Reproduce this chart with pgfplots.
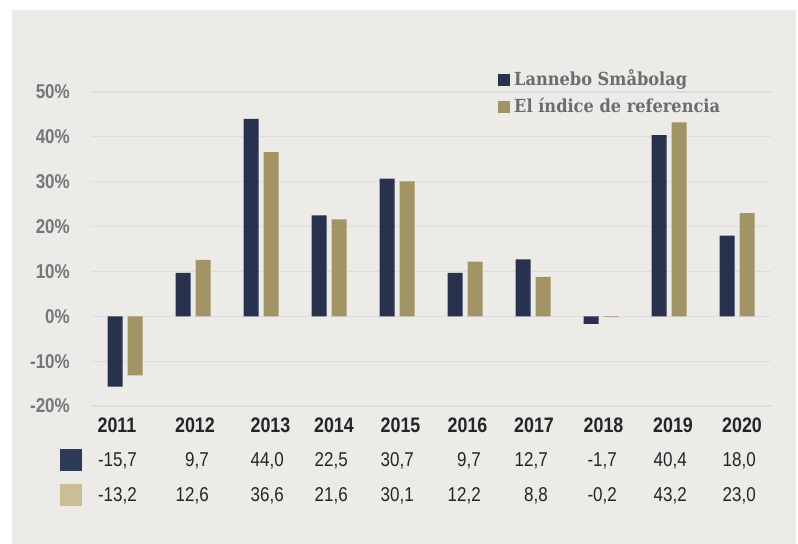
\documentclass[border=0pt]{standalone}
\usepackage{pgfplots}
\pgfplotsset{compat=1.18}
\usepackage{fontspec}
\setmainfont[FakeStretch=0.85]{Liberation Sans}
\newfontfamily\legfont[FakeStretch=0.9]{DejaVu Serif}
\definecolor{panel}{RGB}{236,235,232}
\definecolor{navy}{RGB}{40,50,78}
\definecolor{gold}{RGB}{163,148,102}
\definecolor{navysq}{RGB}{46,58,89}
\definecolor{beigesq}{RGB}{203,190,150}
\definecolor{gridc}{RGB}{221,219,224}
\definecolor{ytc}{RGB}{120,118,124}
\definecolor{legc}{RGB}{110,107,113}
\definecolor{txt}{RGB}{38,36,38}
\begin{document}
\begin{tikzpicture}[x=1bp,y=1bp]
\fill[white] (0,0) rectangle (798,544);
\useasboundingbox (0,0) rectangle (798,544);
\fill[panel] (12,0) rectangle (796,534);
\begin{axis}[
  at={(91bp,138bp)}, anchor=south west,
  scale only axis, width=680bp, height=314bp,
  xmin=-0.5, xmax=9.5, ymin=-20, ymax=50,
  axis line style={draw=none},
  xtick=\empty,
  ytick={-20,-10,...,50},
  ymajorgrids, grid style={gridc, line width=1.2bp},
  major tick length=0pt,
  /pgf/number format/assume math mode=true,
  yticklabel={\pgfmathprintnumber{\tick}\%},
  yticklabel style={font=\bfseries\fontsize{20bp}{20bp}\selectfont, text=ytc, anchor=east, inner sep=0pt, xshift=-21bp},
  ybar=5bp, bar width=15bp,
  legend image code/.code={\fill[#1] (0bp,-6bp) rectangle (12bp,6bp);},
  legend style={at={(0.5985,1.064)}, anchor=north west, draw=none, fill=none,
    inner sep=0pt, row sep=11bp, column sep=4bp,
    font=\legfont\bfseries\fontsize{18bp}{18bp}\selectfont, text=legc,
    nodes={inner sep=0pt, text height=13bp, text depth=3bp}},
  legend cell align=left,
]
\addplot[fill=navy, draw=none] coordinates {
  (0,-15.7) (1,9.7) (2,44.0) (3,22.5) (4,30.7) (5,9.7) (6,12.7) (7,-1.7) (8,40.4) (9,18.0)};
\addplot[fill=gold, draw=none] coordinates {
  (0,-13.2) (1,12.6) (2,36.6) (3,21.6) (4,30.1) (5,12.2) (6,8.8) (7,-0.2) (8,43.2) (9,23.0)};
\legend{Lannebo Småbolag, El índice de referencia}
\end{axis}
% data table below the chart
\fill[navysq] (60,73) rectangle (82,95);
\fill[beigesq] (60,38) rectangle (82,60);
\begin{scope}[every node/.style={inner sep=0pt, text=txt, font=\fontsize{20bp}{20bp}\selectfont}]
\foreach \x/\y in {117/2011,195/2012,270.5/2013,334/2014,400.5/2015,467.5/2016,534/2017,603.5/2018,673/2019,742/2020}
  \node[anchor=base, font=\bfseries\fontsize{21bp}{21bp}\selectfont] at (\x,111) {\y};
\foreach \x/\v in {137/-15{,}7,209/9{,}7,284/44{,}0,348/22{,}5,414/30{,}7,481/9{,}7,548/12{,}7,617/-1{,}7,687/40{,}4,756/18{,}0}
  \node[anchor=base east] at (\x,77) {\v};
\foreach \x/\v in {137/-13{,}2,209/12{,}6,284/36{,}6,348/21{,}6,414/30{,}1,481/12{,}2,548/8{,}8,617/-0{,}2,687/43{,}2,756/23{,}0}
  \node[anchor=base east] at (\x,42) {\v};
\end{scope}
\end{tikzpicture}
\end{document}
